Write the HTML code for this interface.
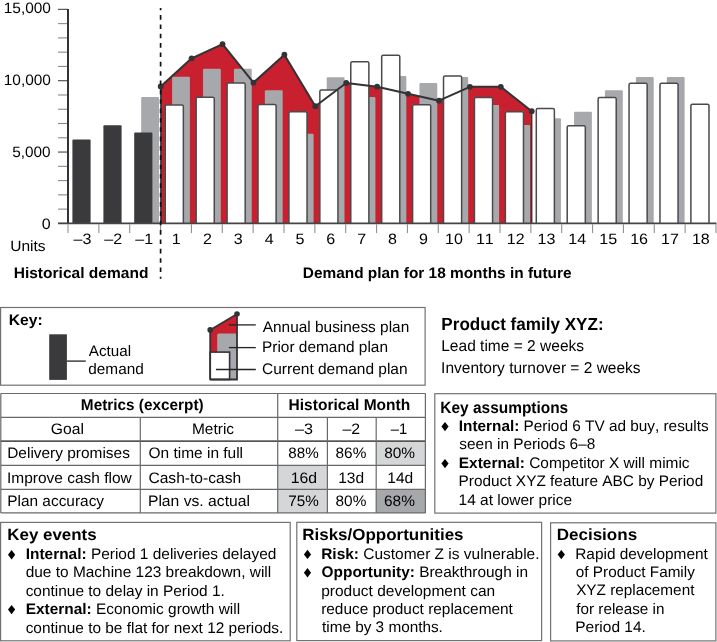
<!DOCTYPE html>
<html><head><meta charset="utf-8"><style>
html,body{margin:0;padding:0;background:#fff;}
svg{display:block;will-change:transform;text-rendering:geometricPrecision;font-kerning:none;font-variant-ligatures:none;font-family:"Liberation Sans",sans-serif;}
</style></head><body>
<svg width="717" height="642" viewBox="0 0 717 642">
<rect width="717" height="642" fill="#fff"/>
<polygon points="160.70,223.40 160.70,86.50 191.62,58.30 222.54,44.20 253.46,82.70 284.38,54.70 315.30,106.20 346.22,83.00 377.14,86.70 408.06,93.80 438.98,100.70 469.90,86.80 500.82,86.80 531.74,111.20 531.74,223.40" fill="#c8202f"/>
<rect x="141.18" y="96.90" width="17.80" height="126.80" fill="#a7a8ab" rx="1.00"/>
<rect x="172.10" y="76.80" width="17.80" height="146.90" fill="#a7a8ab" rx="1.00"/>
<rect x="203.02" y="68.80" width="17.80" height="154.90" fill="#a7a8ab" rx="1.00"/>
<rect x="233.94" y="68.80" width="17.80" height="154.90" fill="#a7a8ab" rx="1.00"/>
<rect x="264.86" y="90.20" width="17.80" height="133.50" fill="#a7a8ab" rx="1.00"/>
<rect x="295.78" y="133.70" width="17.80" height="90.00" fill="#a7a8ab" rx="1.00"/>
<rect x="326.70" y="77.20" width="17.80" height="146.50" fill="#a7a8ab" rx="1.00"/>
<rect x="357.62" y="97.10" width="17.80" height="126.60" fill="#a7a8ab" rx="1.00"/>
<rect x="388.54" y="76.10" width="17.80" height="147.60" fill="#a7a8ab" rx="1.00"/>
<rect x="419.46" y="82.90" width="17.80" height="140.80" fill="#a7a8ab" rx="1.00"/>
<rect x="450.38" y="77.10" width="17.80" height="146.60" fill="#a7a8ab" rx="1.00"/>
<rect x="481.30" y="105.00" width="17.80" height="118.70" fill="#a7a8ab" rx="1.00"/>
<rect x="512.22" y="124.90" width="17.80" height="98.80" fill="#a7a8ab" rx="1.00"/>
<rect x="543.14" y="118.30" width="17.80" height="105.40" fill="#a7a8ab" rx="1.00"/>
<rect x="574.06" y="111.80" width="17.80" height="111.90" fill="#a7a8ab" rx="1.00"/>
<rect x="604.98" y="90.20" width="17.80" height="133.50" fill="#a7a8ab" rx="1.00"/>
<rect x="635.90" y="77.10" width="17.80" height="146.60" fill="#a7a8ab" rx="1.00"/>
<rect x="666.82" y="77.10" width="17.80" height="146.60" fill="#a7a8ab" rx="1.00"/>
<rect x="72.40" y="139.40" width="18.20" height="84.30" fill="#3a3a3c" rx="1.00"/>
<rect x="103.40" y="125.20" width="18.20" height="98.50" fill="#3a3a3c" rx="1.00"/>
<rect x="134.20" y="132.40" width="18.20" height="91.30" fill="#3a3a3c" rx="1.00"/>
<rect x="165.25" y="104.95" width="18.10" height="118.45" fill="#fff"/>
<path d="M165.25,223.40 V106.45 Q165.25,104.95 166.75,104.95 H181.85 Q183.35,104.95 183.35,106.45 V223.40" fill="none" stroke="#4a4a4c" stroke-width="1.50"/>
<rect x="196.17" y="97.25" width="18.10" height="126.15" fill="#fff"/>
<path d="M196.17,223.40 V98.75 Q196.17,97.25 197.67,97.25 H212.77 Q214.27,97.25 214.27,98.75 V223.40" fill="none" stroke="#4a4a4c" stroke-width="1.50"/>
<rect x="227.09" y="82.95" width="18.10" height="140.45" fill="#fff"/>
<path d="M227.09,223.40 V84.45 Q227.09,82.95 228.59,82.95 H243.69 Q245.19,82.95 245.19,84.45 V223.40" fill="none" stroke="#4a4a4c" stroke-width="1.50"/>
<rect x="258.01" y="104.55" width="18.10" height="118.85" fill="#fff"/>
<path d="M258.01,223.40 V106.05 Q258.01,104.55 259.51,104.55 H274.61 Q276.11,104.55 276.11,106.05 V223.40" fill="none" stroke="#4a4a4c" stroke-width="1.50"/>
<rect x="288.93" y="111.65" width="18.10" height="111.75" fill="#fff"/>
<path d="M288.93,223.40 V113.15 Q288.93,111.65 290.43,111.65 H305.53 Q307.03,111.65 307.03,113.15 V223.40" fill="none" stroke="#4a4a4c" stroke-width="1.50"/>
<rect x="319.85" y="89.95" width="18.10" height="133.45" fill="#fff"/>
<path d="M319.85,223.40 V91.45 Q319.85,89.95 321.35,89.95 H336.45 Q337.95,89.95 337.95,91.45 V223.40" fill="none" stroke="#4a4a4c" stroke-width="1.50"/>
<rect x="350.77" y="61.85" width="18.10" height="161.55" fill="#fff"/>
<path d="M350.77,223.40 V63.35 Q350.77,61.85 352.27,61.85 H367.37 Q368.87,61.85 368.87,63.35 V223.40" fill="none" stroke="#4a4a4c" stroke-width="1.50"/>
<rect x="381.69" y="55.15" width="18.10" height="168.25" fill="#fff"/>
<path d="M381.69,223.40 V56.65 Q381.69,55.15 383.19,55.15 H398.29 Q399.79,55.15 399.79,56.65 V223.40" fill="none" stroke="#4a4a4c" stroke-width="1.50"/>
<rect x="412.61" y="104.65" width="18.10" height="118.75" fill="#fff"/>
<path d="M412.61,223.40 V106.15 Q412.61,104.65 414.11,104.65 H429.21 Q430.71,104.65 430.71,106.15 V223.40" fill="none" stroke="#4a4a4c" stroke-width="1.50"/>
<rect x="443.53" y="75.95" width="18.10" height="147.45" fill="#fff"/>
<path d="M443.53,223.40 V77.45 Q443.53,75.95 445.03,75.95 H460.13 Q461.63,75.95 461.63,77.45 V223.40" fill="none" stroke="#4a4a4c" stroke-width="1.50"/>
<rect x="474.45" y="97.45" width="18.10" height="125.95" fill="#fff"/>
<path d="M474.45,223.40 V98.95 Q474.45,97.45 475.95,97.45 H491.05 Q492.55,97.45 492.55,98.95 V223.40" fill="none" stroke="#4a4a4c" stroke-width="1.50"/>
<rect x="505.37" y="111.65" width="18.10" height="111.75" fill="#fff"/>
<path d="M505.37,223.40 V113.15 Q505.37,111.65 506.87,111.65 H521.97 Q523.47,111.65 523.47,113.15 V223.40" fill="none" stroke="#4a4a4c" stroke-width="1.50"/>
<rect x="536.29" y="108.55" width="18.10" height="114.85" fill="#fff"/>
<path d="M536.29,223.40 V110.05 Q536.29,108.55 537.79,108.55 H552.89 Q554.39,108.55 554.39,110.05 V223.40" fill="none" stroke="#4a4a4c" stroke-width="1.50"/>
<rect x="567.21" y="125.65" width="18.10" height="97.75" fill="#fff"/>
<path d="M567.21,223.40 V127.15 Q567.21,125.65 568.71,125.65 H583.81 Q585.31,125.65 585.31,127.15 V223.40" fill="none" stroke="#4a4a4c" stroke-width="1.50"/>
<rect x="598.13" y="97.45" width="18.10" height="125.95" fill="#fff"/>
<path d="M598.13,223.40 V98.95 Q598.13,97.45 599.63,97.45 H614.73 Q616.23,97.45 616.23,98.95 V223.40" fill="none" stroke="#4a4a4c" stroke-width="1.50"/>
<rect x="629.05" y="83.25" width="18.10" height="140.15" fill="#fff"/>
<path d="M629.05,223.40 V84.75 Q629.05,83.25 630.55,83.25 H645.65 Q647.15,83.25 647.15,84.75 V223.40" fill="none" stroke="#4a4a4c" stroke-width="1.50"/>
<rect x="659.97" y="83.25" width="18.10" height="140.15" fill="#fff"/>
<path d="M659.97,223.40 V84.75 Q659.97,83.25 661.47,83.25 H676.57 Q678.07,83.25 678.07,84.75 V223.40" fill="none" stroke="#4a4a4c" stroke-width="1.50"/>
<rect x="690.89" y="104.35" width="18.10" height="119.05" fill="#fff"/>
<path d="M690.89,223.40 V105.85 Q690.89,104.35 692.39,104.35 H707.49 Q708.99,104.35 708.99,105.85 V223.40" fill="none" stroke="#4a4a4c" stroke-width="1.50"/>
<line x1="531.74" y1="111.20" x2="531.74" y2="223.40" stroke="#333335" stroke-width="1.40" />
<line x1="161.00" y1="86.50" x2="161.00" y2="223.40" stroke="#333335" stroke-width="1.70" />
<line x1="58.00" y1="223.40" x2="68.00" y2="223.40" stroke="#444" stroke-width="1.10" />
<line x1="58.00" y1="209.13" x2="68.00" y2="209.13" stroke="#8a8a8a" stroke-width="1.10" />
<line x1="58.00" y1="194.86" x2="68.00" y2="194.86" stroke="#8a8a8a" stroke-width="1.10" />
<line x1="58.00" y1="180.59" x2="68.00" y2="180.59" stroke="#8a8a8a" stroke-width="1.10" />
<line x1="58.00" y1="166.32" x2="68.00" y2="166.32" stroke="#8a8a8a" stroke-width="1.10" />
<line x1="58.00" y1="152.05" x2="68.00" y2="152.05" stroke="#444" stroke-width="1.10" />
<line x1="58.00" y1="137.78" x2="68.00" y2="137.78" stroke="#8a8a8a" stroke-width="1.10" />
<line x1="58.00" y1="123.51" x2="68.00" y2="123.51" stroke="#8a8a8a" stroke-width="1.10" />
<line x1="58.00" y1="109.24" x2="68.00" y2="109.24" stroke="#8a8a8a" stroke-width="1.10" />
<line x1="58.00" y1="94.97" x2="68.00" y2="94.97" stroke="#8a8a8a" stroke-width="1.10" />
<line x1="58.00" y1="80.70" x2="68.00" y2="80.70" stroke="#444" stroke-width="1.10" />
<line x1="58.00" y1="66.43" x2="68.00" y2="66.43" stroke="#8a8a8a" stroke-width="1.10" />
<line x1="58.00" y1="52.16" x2="68.00" y2="52.16" stroke="#8a8a8a" stroke-width="1.10" />
<line x1="58.00" y1="37.89" x2="68.00" y2="37.89" stroke="#8a8a8a" stroke-width="1.10" />
<line x1="58.00" y1="23.62" x2="68.00" y2="23.62" stroke="#8a8a8a" stroke-width="1.10" />
<line x1="58.00" y1="9.35" x2="68.00" y2="9.35" stroke="#444" stroke-width="1.10" />
<line x1="68.00" y1="9.00" x2="68.00" y2="223.40" stroke="#333" stroke-width="2.00" />
<line x1="58.00" y1="223.40" x2="716.50" y2="223.40" stroke="#444" stroke-width="1.80" />
<line x1="68.00" y1="224.30" x2="68.00" y2="232.90" stroke="#8f8f8f" stroke-width="1.10" />
<line x1="98.86" y1="224.30" x2="98.86" y2="232.90" stroke="#8f8f8f" stroke-width="1.10" />
<line x1="129.71" y1="224.30" x2="129.71" y2="232.90" stroke="#8f8f8f" stroke-width="1.10" />
<line x1="160.57" y1="224.30" x2="160.57" y2="232.90" stroke="#8f8f8f" stroke-width="1.10" />
<line x1="191.43" y1="224.30" x2="191.43" y2="232.90" stroke="#8f8f8f" stroke-width="1.10" />
<line x1="222.28" y1="224.30" x2="222.28" y2="232.90" stroke="#8f8f8f" stroke-width="1.10" />
<line x1="253.14" y1="224.30" x2="253.14" y2="232.90" stroke="#8f8f8f" stroke-width="1.10" />
<line x1="284.00" y1="224.30" x2="284.00" y2="232.90" stroke="#8f8f8f" stroke-width="1.10" />
<line x1="314.86" y1="224.30" x2="314.86" y2="232.90" stroke="#8f8f8f" stroke-width="1.10" />
<line x1="345.71" y1="224.30" x2="345.71" y2="232.90" stroke="#8f8f8f" stroke-width="1.10" />
<line x1="376.57" y1="224.30" x2="376.57" y2="232.90" stroke="#8f8f8f" stroke-width="1.10" />
<line x1="407.43" y1="224.30" x2="407.43" y2="232.90" stroke="#8f8f8f" stroke-width="1.10" />
<line x1="438.28" y1="224.30" x2="438.28" y2="232.90" stroke="#8f8f8f" stroke-width="1.10" />
<line x1="469.14" y1="224.30" x2="469.14" y2="232.90" stroke="#8f8f8f" stroke-width="1.10" />
<line x1="500.00" y1="224.30" x2="500.00" y2="232.90" stroke="#8f8f8f" stroke-width="1.10" />
<line x1="530.86" y1="224.30" x2="530.86" y2="232.90" stroke="#8f8f8f" stroke-width="1.10" />
<line x1="561.71" y1="224.30" x2="561.71" y2="232.90" stroke="#8f8f8f" stroke-width="1.10" />
<line x1="592.57" y1="224.30" x2="592.57" y2="232.90" stroke="#8f8f8f" stroke-width="1.10" />
<line x1="623.43" y1="224.30" x2="623.43" y2="232.90" stroke="#8f8f8f" stroke-width="1.10" />
<line x1="654.28" y1="224.30" x2="654.28" y2="232.90" stroke="#8f8f8f" stroke-width="1.10" />
<line x1="685.14" y1="224.30" x2="685.14" y2="232.90" stroke="#8f8f8f" stroke-width="1.10" />
<line x1="716.00" y1="224.30" x2="716.00" y2="232.90" stroke="#8f8f8f" stroke-width="1.10" />
<polyline points="160.70,86.50 191.62,58.30 222.54,44.20 253.46,82.70 284.38,54.70 315.30,106.20 346.22,83.00 377.14,86.70 408.06,93.80 438.98,100.70 469.90,86.80 500.82,86.80 531.74,111.20" fill="none" stroke="#333335" stroke-width="2" stroke-linejoin="round"/>
<circle cx="160.70" cy="86.50" r="2.9" fill="#333335"/>
<circle cx="191.62" cy="58.30" r="2.9" fill="#333335"/>
<circle cx="222.54" cy="44.20" r="2.9" fill="#333335"/>
<circle cx="253.46" cy="82.70" r="2.9" fill="#333335"/>
<circle cx="284.38" cy="54.70" r="2.9" fill="#333335"/>
<circle cx="315.30" cy="106.20" r="2.9" fill="#333335"/>
<circle cx="346.22" cy="83.00" r="2.9" fill="#333335"/>
<circle cx="377.14" cy="86.70" r="2.9" fill="#333335"/>
<circle cx="408.06" cy="93.80" r="2.9" fill="#333335"/>
<circle cx="438.98" cy="100.70" r="2.9" fill="#333335"/>
<circle cx="469.90" cy="86.80" r="2.9" fill="#333335"/>
<circle cx="500.82" cy="86.80" r="2.9" fill="#333335"/>
<circle cx="531.74" cy="111.20" r="2.9" fill="#333335"/>
<line x1="160.60" y1="8.10" x2="160.60" y2="278.80" stroke="#111" stroke-width="1.70" stroke-dasharray="4.6 4.75" stroke-dashoffset="2.4"/>
<text transform="translate(3.73,13.00) scale(1.0283,1)" font-size="15.00" fill="#000"><tspan>15,000</tspan></text>
<text transform="translate(3.73,85.20) scale(1.0283,1)" font-size="15.00" fill="#000"><tspan>10,000</tspan></text>
<text transform="translate(12.19,157.00) scale(1.0234,1)" font-size="15.00" fill="#000"><tspan>5,000</tspan></text>
<text transform="translate(41.70,229.30) scale(1.0700,1)" font-size="15.00" fill="#000"><tspan>0</tspan></text>
<text transform="translate(73.45,243.90) scale(1.0700,1)" font-size="15.00" fill="#000"><tspan>–3</tspan></text>
<text transform="translate(104.36,243.90) scale(1.0700,1)" font-size="15.00" fill="#000"><tspan>–2</tspan></text>
<text transform="translate(135.21,243.90) scale(1.0700,1)" font-size="15.00" fill="#000"><tspan>–1</tspan></text>
<text transform="translate(171.82,243.90) scale(1.0700,1)" font-size="15.00" fill="#000"><tspan>1</tspan></text>
<text transform="translate(202.89,243.90) scale(1.0700,1)" font-size="15.00" fill="#000"><tspan>2</tspan></text>
<text transform="translate(233.80,243.90) scale(1.0700,1)" font-size="15.00" fill="#000"><tspan>3</tspan></text>
<text transform="translate(264.66,243.90) scale(1.0700,1)" font-size="15.00" fill="#000"><tspan>4</tspan></text>
<text transform="translate(295.48,243.90) scale(1.0700,1)" font-size="15.00" fill="#000"><tspan>5</tspan></text>
<text transform="translate(326.27,243.90) scale(1.0700,1)" font-size="15.00" fill="#000"><tspan>6</tspan></text>
<text transform="translate(357.17,243.90) scale(1.0700,1)" font-size="15.00" fill="#000"><tspan>7</tspan></text>
<text transform="translate(388.04,243.90) scale(1.0700,1)" font-size="15.00" fill="#000"><tspan>8</tspan></text>
<text transform="translate(418.90,243.90) scale(1.0700,1)" font-size="15.00" fill="#000"><tspan>9</tspan></text>
<text transform="translate(444.99,243.90) scale(1.0700,1)" font-size="15.00" fill="#000"><tspan>10</tspan></text>
<text transform="translate(475.92,243.90) scale(1.0700,1)" font-size="15.00" fill="#000"><tspan>11</tspan></text>
<text transform="translate(506.79,243.90) scale(1.0700,1)" font-size="15.00" fill="#000"><tspan>12</tspan></text>
<text transform="translate(537.60,243.90) scale(1.0700,1)" font-size="15.00" fill="#000"><tspan>13</tspan></text>
<text transform="translate(568.34,243.90) scale(1.0700,1)" font-size="15.00" fill="#000"><tspan>14</tspan></text>
<text transform="translate(599.30,243.90) scale(1.0700,1)" font-size="15.00" fill="#000"><tspan>15</tspan></text>
<text transform="translate(630.17,243.90) scale(1.0700,1)" font-size="15.00" fill="#000"><tspan>16</tspan></text>
<text transform="translate(661.08,243.90) scale(1.0700,1)" font-size="15.00" fill="#000"><tspan>17</tspan></text>
<text transform="translate(691.88,243.90) scale(1.0700,1)" font-size="15.00" fill="#000"><tspan>18</tspan></text>
<text transform="translate(10.20,251.20) scale(1.0346,1)" font-size="15.00" fill="#000"><tspan>Units</tspan></text>
<text transform="translate(13.66,277.70) scale(1.0235,1)" font-size="15.20" fill="#000"><tspan font-weight="bold">Historical demand</tspan></text>
<text transform="translate(302.77,277.70) scale(1.0143,1)" font-size="15.20" fill="#000"><tspan font-weight="bold">Demand plan for 18 months in future</tspan></text>
<rect x="0.60" y="307.50" width="424.50" height="77.70" fill="none" stroke="#727272" stroke-width="1.20"/>
<text transform="translate(8.75,324.90) scale(1.0239,1)" font-size="15.30" fill="#000"><tspan font-weight="bold">Key:</tspan></text>
<rect x="49.20" y="334.30" width="17.70" height="45.60" fill="#3a3a3c"/>
<line x1="66.90" y1="361.10" x2="85.80" y2="361.10" stroke="#222" stroke-width="1.30" />
<text transform="translate(88.87,356.30) scale(1.0000,1)" font-size="15.20" fill="#000"><tspan>Actual</tspan></text>
<text transform="translate(88.25,373.90) scale(1.0129,1)" font-size="15.20" fill="#000"><tspan>demand</tspan></text>
<polygon points="210.20,329.90 237.00,314.00 237.00,379.50 210.20,379.50" fill="#c8202f"/>
<rect x="217.20" y="333.40" width="19.80" height="46.10" fill="#a7a8ab" rx="1.50"/>
<rect x="210.20" y="352.10" width="19.40" height="27.40" fill="#fff" stroke="#333335" stroke-width="1.60"/>
<polyline points="210.20,379.50 237.00,379.50 237.00,314.00 210.20,329.90 210.20,379.50" fill="none" stroke="#333335" stroke-width="1.8"/>
<circle cx="210.20" cy="329.90" r="2.8" fill="#333335"/>
<circle cx="237.00" cy="314.00" r="2.8" fill="#333335"/>
<line x1="228.90" y1="324.90" x2="255.80" y2="324.90" stroke="#222" stroke-width="1.30" />
<line x1="228.90" y1="347.60" x2="255.80" y2="347.60" stroke="#222" stroke-width="1.30" />
<line x1="215.90" y1="369.50" x2="255.80" y2="369.50" stroke="#222" stroke-width="1.30" />
<text transform="translate(262.77,331.50) scale(1.0009,1)" font-size="15.40" fill="#000"><tspan>Annual business plan</tspan></text>
<text transform="translate(262.03,352.40) scale(1.0018,1)" font-size="15.40" fill="#000"><tspan>Prior demand plan</tspan></text>
<text transform="translate(262.01,373.60) scale(1.0070,1)" font-size="15.40" fill="#000"><tspan>Current demand plan</tspan></text>
<text transform="translate(441.36,329.60) scale(0.9705,1)" font-size="17.60" fill="#000"><tspan font-weight="bold">Product family XYZ:</tspan></text>
<text transform="translate(441.23,350.90) scale(0.9896,1)" font-size="15.70" fill="#000"><tspan>Lead time = 2 weeks</tspan></text>
<text transform="translate(441.07,372.80) scale(0.9885,1)" font-size="15.70" fill="#000"><tspan>Inventory turnover = 2 weeks</tspan></text>
<rect x="376.20" y="441.20" width="49.20" height="24.20" fill="#d5d6d8"/>
<rect x="277.70" y="465.40" width="49.70" height="24.00" fill="#d5d6d8"/>
<rect x="277.70" y="489.40" width="49.70" height="23.50" fill="#d5d6d8"/>
<rect x="376.20" y="489.40" width="49.20" height="23.50" fill="#a7a8ab"/>
<line x1="0.80" y1="393.50" x2="425.40" y2="393.50" stroke="#6a6a6a" stroke-width="1.20" />
<line x1="0.80" y1="417.30" x2="425.40" y2="417.30" stroke="#6a6a6a" stroke-width="1.20" />
<line x1="0.80" y1="441.20" x2="425.40" y2="441.20" stroke="#6a6a6a" stroke-width="1.20" />
<line x1="0.80" y1="465.40" x2="425.40" y2="465.40" stroke="#6a6a6a" stroke-width="1.20" />
<line x1="0.80" y1="489.40" x2="425.40" y2="489.40" stroke="#6a6a6a" stroke-width="1.20" />
<line x1="0.80" y1="512.90" x2="425.40" y2="512.90" stroke="#6a6a6a" stroke-width="1.20" />
<line x1="0.80" y1="441.20" x2="425.40" y2="441.20" stroke="#555" stroke-width="1.60" />
<line x1="0.80" y1="393.50" x2="0.80" y2="512.90" stroke="#6a6a6a" stroke-width="1.20" />
<line x1="140.30" y1="417.30" x2="140.30" y2="512.90" stroke="#6a6a6a" stroke-width="1.20" />
<line x1="277.70" y1="393.50" x2="277.70" y2="512.90" stroke="#6a6a6a" stroke-width="1.20" />
<line x1="327.40" y1="417.30" x2="327.40" y2="512.90" stroke="#6a6a6a" stroke-width="1.20" />
<line x1="376.20" y1="417.30" x2="376.20" y2="512.90" stroke="#6a6a6a" stroke-width="1.20" />
<line x1="425.40" y1="393.50" x2="425.40" y2="512.90" stroke="#6a6a6a" stroke-width="1.20" />
<text transform="translate(80.87,410.00) scale(0.9781,1)" font-size="15.70" fill="#000"><tspan font-weight="bold">Metrics (excerpt)</tspan></text>
<text transform="translate(288.56,410.00) scale(0.9904,1)" font-size="15.70" fill="#000"><tspan font-weight="bold">Historical Month</tspan></text>
<text transform="translate(50.81,433.80) scale(1.0321,1)" font-size="15.20" fill="#000"><tspan>Goal</tspan></text>
<text transform="translate(191.93,433.80) scale(1.0194,1)" font-size="15.20" fill="#000"><tspan>Metric</tspan></text>
<text transform="translate(294.90,433.80) scale(1.0653,1)" font-size="15.20" fill="#000"><tspan>–3</tspan></text>
<text transform="translate(342.40,433.80) scale(1.0469,1)" font-size="15.20" fill="#000"><tspan>–2</tspan></text>
<text transform="translate(390.70,433.80) scale(0.9712,1)" font-size="15.20" fill="#000"><tspan>–1</tspan></text>
<text transform="translate(7.23,458.00) scale(1.0161,1)" font-size="15.20" fill="#000"><tspan>Delivery promises</tspan></text>
<text transform="translate(7.07,482.50) scale(1.0188,1)" font-size="15.20" fill="#000"><tspan>Improve cash flow</tspan></text>
<text transform="translate(7.23,506.40) scale(1.0150,1)" font-size="15.20" fill="#000"><tspan>Plan accuracy</tspan></text>
<text transform="translate(148.47,458.00) scale(1.0188,1)" font-size="15.20" fill="#000"><tspan>On time in full</tspan></text>
<text transform="translate(148.41,482.50) scale(1.0267,1)" font-size="15.20" fill="#000"><tspan>Cash-to-cash</tspan></text>
<text transform="translate(147.91,506.40) scale(1.0333,1)" font-size="15.20" fill="#000"><tspan>Plan vs. actual</tspan></text>
<text transform="translate(288.34,458.00) scale(0.9993,1)" font-size="15.20" fill="#000"><tspan>88%</tspan></text>
<text transform="translate(335.53,458.00) scale(1.0130,1)" font-size="15.20" fill="#000"><tspan>86%</tspan></text>
<text transform="translate(384.13,458.00) scale(1.0130,1)" font-size="15.20" fill="#000"><tspan>80%</tspan></text>
<text transform="translate(290.69,482.50) scale(1.0421,1)" font-size="15.20" fill="#000"><tspan>16d</tspan></text>
<text transform="translate(338.21,482.50) scale(1.0248,1)" font-size="15.20" fill="#000"><tspan>13d</tspan></text>
<text transform="translate(387.31,482.50) scale(1.0248,1)" font-size="15.20" fill="#000"><tspan>14d</tspan></text>
<text transform="translate(288.22,506.40) scale(1.0034,1)" font-size="15.20" fill="#000"><tspan>75%</tspan></text>
<text transform="translate(335.53,506.40) scale(1.0130,1)" font-size="15.20" fill="#000"><tspan>80%</tspan></text>
<text transform="translate(384.02,506.40) scale(1.0169,1)" font-size="15.20" fill="#000"><tspan>68%</tspan></text>
<rect x="434.80" y="393.70" width="281.10" height="119.40" fill="none" stroke="#727272" stroke-width="1.20"/>
<text transform="translate(440.37,412.50) scale(0.9481,1)" font-size="16.30" fill="#000"><tspan font-weight="bold">Key assumptions</tspan></text>
<polygon points="445.00,421.90 448.60,426.60 445.00,431.30 441.40,426.60" fill="#000"/>
<text transform="translate(458.77,430.60) scale(1.0033,1)" font-size="15.30" fill="#000"><tspan font-weight="bold">Internal:</tspan><tspan> Period 6 TV ad buy, results</tspan></text>
<text transform="translate(459.37,448.70) scale(1.0048,1)" font-size="15.30" fill="#000"><tspan>seen in Periods 6–8</tspan></text>
<polygon points="445.00,458.90 448.60,463.60 445.00,468.30 441.40,463.60" fill="#000"/>
<text transform="translate(458.77,467.60) scale(1.0094,1)" font-size="15.30" fill="#000"><tspan font-weight="bold">External:</tspan><tspan> Competitor X will mimic</tspan></text>
<text transform="translate(458.54,486.30) scale(1.0063,1)" font-size="15.30" fill="#000"><tspan>Product XYZ feature ABC by Period</tspan></text>
<text transform="translate(458.62,504.90) scale(1.0108,1)" font-size="15.30" fill="#000"><tspan>14 at lower price</tspan></text>
<rect x="0.60" y="522.40" width="289.60" height="118.40" fill="none" stroke="#727272" stroke-width="1.20"/>
<text transform="translate(7.27,539.50) scale(1.0389,1)" font-size="16.30" fill="#000"><tspan font-weight="bold">Key events</tspan></text>
<polygon points="11.60,550.10 15.20,554.80 11.60,559.50 8.00,554.80" fill="#000"/>
<text transform="translate(25.67,558.90) scale(1.0097,1)" font-size="15.30" fill="#000"><tspan font-weight="bold">Internal:</tspan><tspan> Period 1 deliveries delayed</tspan></text>
<text transform="translate(25.65,577.20) scale(1.0096,1)" font-size="15.30" fill="#000"><tspan>due to Machine 123 breakdown, will</tspan></text>
<text transform="translate(25.64,595.70) scale(1.0093,1)" font-size="15.30" fill="#000"><tspan>continue to delay in Period 1.</tspan></text>
<polygon points="11.60,604.90 15.20,609.60 11.60,614.30 8.00,609.60" fill="#000"/>
<text transform="translate(25.67,613.80) scale(1.0089,1)" font-size="15.30" fill="#000"><tspan font-weight="bold">External:</tspan><tspan> Economic growth will</tspan></text>
<text transform="translate(25.65,632.50) scale(1.0068,1)" font-size="15.30" fill="#000"><tspan>continue to be flat for next 12 periods.</tspan></text>
<rect x="296.80" y="522.30" width="244.80" height="118.30" fill="none" stroke="#727272" stroke-width="1.20"/>
<text transform="translate(302.26,539.90) scale(1.0424,1)" font-size="16.30" fill="#000"><tspan font-weight="bold">Risks/Opportunities</tspan></text>
<polygon points="307.50,549.70 311.10,554.40 307.50,559.10 303.90,554.40" fill="#000"/>
<text transform="translate(321.17,558.50) scale(1.0110,1)" font-size="15.30" fill="#000"><tspan font-weight="bold">Risk:</tspan><tspan> Customer Z is vulnerable.</tspan></text>
<polygon points="307.50,568.10 311.10,572.80 307.50,577.50 303.90,572.80" fill="#000"/>
<text transform="translate(321.57,577.00) scale(1.0075,1)" font-size="15.30" fill="#000"><tspan font-weight="bold">Opportunity:</tspan><tspan> Breakthrough in</tspan></text>
<text transform="translate(321.20,595.50) scale(1.0128,1)" font-size="15.30" fill="#000"><tspan>product development can</tspan></text>
<text transform="translate(321.18,613.50) scale(1.0064,1)" font-size="15.30" fill="#000"><tspan>reduce product replacement</tspan></text>
<text transform="translate(321.97,632.00) scale(1.0015,1)" font-size="15.30" fill="#000"><tspan>time by 3 months.</tspan></text>
<rect x="550.60" y="522.80" width="165.30" height="118.10" fill="none" stroke="#727272" stroke-width="1.20"/>
<text transform="translate(556.66,539.70) scale(1.0459,1)" font-size="16.30" fill="#000"><tspan font-weight="bold">Decisions</tspan></text>
<polygon points="561.30,549.90 564.90,554.60 561.30,559.30 557.70,554.60" fill="#000"/>
<text transform="translate(575.24,558.60) scale(1.0056,1)" font-size="15.30" fill="#000"><tspan>Rapid development</tspan></text>
<text transform="translate(575.86,576.60) scale(0.9994,1)" font-size="15.30" fill="#000"><tspan>of Product Family</tspan></text>
<text transform="translate(576.16,595.40) scale(1.0005,1)" font-size="15.30" fill="#000"><tspan>XYZ replacement</tspan></text>
<text transform="translate(576.28,613.60) scale(0.9973,1)" font-size="15.30" fill="#000"><tspan>for release in</tspan></text>
<text transform="translate(575.23,632.00) scale(1.0135,1)" font-size="15.30" fill="#000"><tspan>Period 14.</tspan></text>
</svg>
</body></html>
